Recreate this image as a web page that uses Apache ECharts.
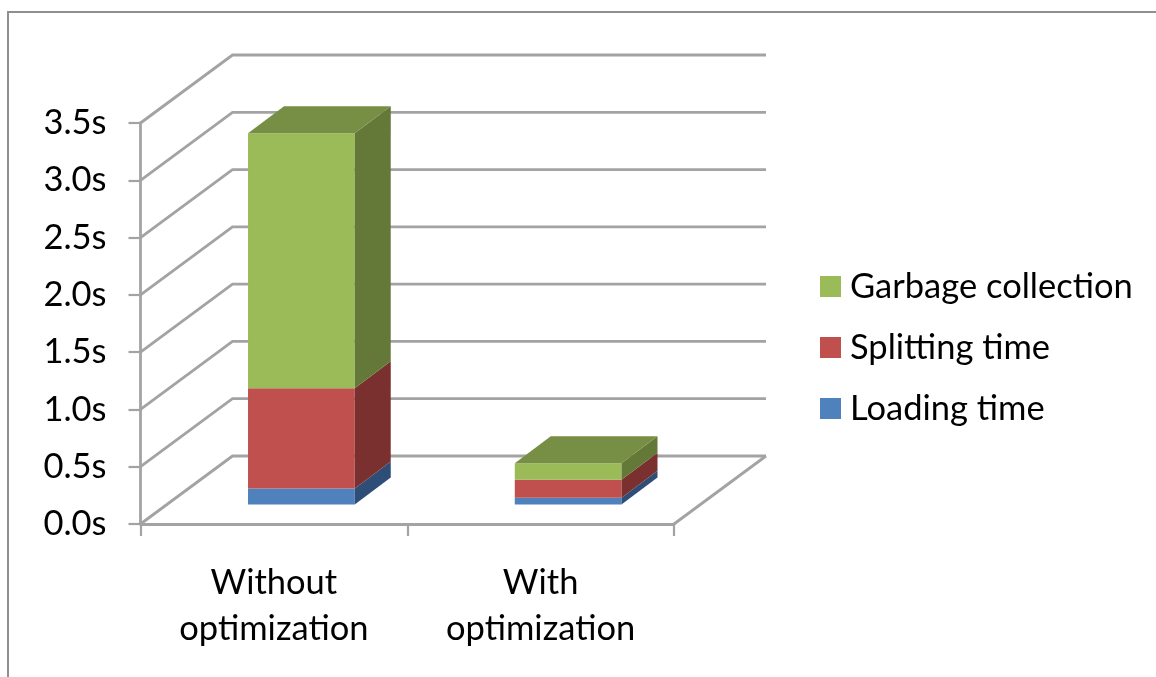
<!DOCTYPE html>
<html>
<head>
<meta charset="utf-8">
<style>html,body{margin:0;padding:0;background:#fff}#c{width:1156px;height:677px}</style>
<script src="https://cdn.jsdelivr.net/npm/echarts@6/dist/echarts.min.js"></script>
</head>
<body>
<div id="c"></div>
<script>
const categories = ['Without\noptimization', 'With\noptimization'];
const loadingTime = [0.14, 0.06];
const splittingTime = [0.875, 0.157];
const garbageCollection = [2.225, 0.142];
const yMin = 0, yMax = 3.5, yStep = 0.5;
const wallTicks = [0, 0.5, 1, 1.5, 2, 2.5, 3, 3.5];

const FONT = 'Lato';
const LINE = '#a3a3a3';
const textColor = '#000000';
const wallDx = 92, wallDy = 68;
const barDx = 36, barDy = 27;
const barShiftX = 27.5, barShiftY = 19.5;
const barFrac = 0.4;

const chart = echarts.init(document.getElementById('c'), null, {renderer: 'canvas'});

function wallItem(params, api) {
  const cs = params.coordSys;
  const v = api.value(0);
  const p = api.coord([0, v]);
  const left = cs.x, right = cs.x + cs.width;
  const children = [{
    type: 'polyline',
    shape: {points: [[left, p[1]], [left + wallDx, p[1] - wallDy], [right + wallDx, p[1] - wallDy]]},
    style: {fill: null, stroke: LINE, lineWidth: 2.8}
  }];
  if (v === 0) {
    children.push({
      type: 'line',
      shape: {x1: right, y1: p[1], x2: right + wallDx, y2: p[1] - wallDy},
      style: {stroke: LINE, lineWidth: 2.8}
    });
  }
  return {type: 'group', children};
}

function barRender(front, side, top, showTop) {
  return function (params, api) {
    const idx = api.value(0);
    const a = api.coord([idx, api.value(1)]);
    const b = api.coord([idx, api.value(2)]);
    const w = api.size([1, 0])[0] * barFrac;
    const x0 = a[0] - w / 2 + barShiftX, x1 = x0 + w;
    const y0 = a[1] - barShiftY, y1 = b[1] - barShiftY;
    const children = [
      {type: 'polygon', shape: {points: [[x0, y0], [x1, y0], [x1, y1], [x0, y1]]}, style: {fill: front}},
      {type: 'polygon', shape: {points: [[x1, y0], [x1 + barDx, y0 - barDy], [x1 + barDx, y1 - barDy], [x1, y1]]}, style: {fill: side}}
    ];
    if (showTop) {
      children.push({type: 'polygon', shape: {points: [[x0, y1], [x1, y1], [x1 + barDx, y1 - barDy], [x0 + barDx, y1 - barDy]]}, style: {fill: top}});
    }
    return {type: 'group', children};
  };
}

const cum1 = loadingTime.slice();
const cum2 = loadingTime.map((v, i) => v + splittingTime[i]);
const cum3 = cum2.map((v, i) => v + garbageCollection[i]);

chart.setOption({
  animation: false,
  backgroundColor: '#ffffff',
  textStyle: {fontFamily: FONT},
  grid: {left: 140.5, top: 123, width: 533.5, height: 401, containLabel: false},
  legend: {
    orient: 'vertical', left: 820, top: 269, padding: 0,
    itemWidth: 21, itemHeight: 21, itemGap: 26, icon: 'rect',
    data: ['Garbage collection', 'Splitting time', 'Loading time'],
    textStyle: {fontFamily: FONT, fontSize: 34.5, color: textColor, padding: [0, 0, 0, 4]}
  },
  xAxis: {
    type: 'category', data: categories, boundaryGap: true,
    axisLine: {show: true, lineStyle: {color: LINE, width: 2.8}},
    axisTick: {show: true, length: 12, alignWithLabel: false, lineStyle: {color: LINE, width: 2.2}},
    axisLabel: {interval: 0, margin: 36, fontFamily: FONT, fontSize: 34.5, lineHeight: 46, color: textColor},
    splitLine: {show: false}
  },
  yAxis: {
    type: 'value', min: yMin, max: yMax, interval: yStep,
    axisLine: {show: true, lineStyle: {color: LINE, width: 2.8}},
    axisTick: {show: true, length: 12, lineStyle: {color: LINE, width: 2.2}},
    axisLabel: {margin: 34, padding: [2, 0, 0, 0], fontFamily: FONT, fontSize: 34.5, color: textColor, formatter: v => v.toFixed(1) + 's'},
    splitLine: {show: false}
  },
  graphic: [{
    type: 'polyline', silent: true, z: 0,
    shape: {points: [[8, 677], [8, 12], [1156, 12]]},
    style: {fill: null, stroke: '#8f8f8f', lineWidth: 2}
  }],
  series: [
    {type: 'custom', name: 'walls', silent: true, z: 1, renderItem: wallItem, clip: false, data: wallTicks.map(v => [v]), encode: {y: 0}},
    {type: 'custom', name: 'Loading time', z: 3, clip: false, itemStyle: {color: '#4F81BD'},
      renderItem: barRender('#4F81BD', '#2F4E77', '#3F6797', false),
      data: categories.map((c, i) => [i, 0, cum1[i]]), encode: {x: 0, y: [1, 2]}},
    {type: 'custom', name: 'Splitting time', z: 4, clip: false, itemStyle: {color: '#C0504D'},
      renderItem: barRender('#C0504D', '#7A302E', '#9A403E', false),
      data: categories.map((c, i) => [i, cum1[i], cum2[i]]), encode: {x: 0, y: [1, 2]}},
    {type: 'custom', name: 'Garbage collection', z: 5, clip: false, itemStyle: {color: '#9BBB59'},
      renderItem: barRender('#9BBB59', '#647838', '#778F45', true),
      data: categories.map((c, i) => [i, cum2[i], cum3[i]]), encode: {x: 0, y: [1, 2]}}
  ]
});
</script>
</body>
</html>
